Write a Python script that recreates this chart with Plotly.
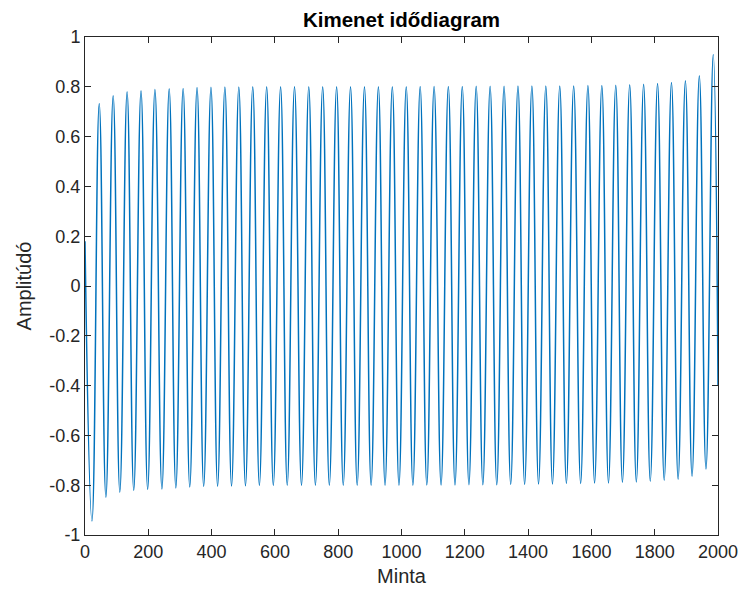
import plotly.graph_objects as go

# Sample index where the signal starts / ends and the values there
start_sample = 0
start_value = 0.18
end_sample = 2000
end_value = -0.40

# Trough positions (sample index) and values
trough_x = [22, 66, 110, 154, 198, 243, 287, 331, 375, 419, 463, 507, 551, 595, 639,
            684, 728, 772, 816, 860, 904, 948, 992, 1036, 1080, 1125, 1169, 1213, 1257,
            1301, 1345, 1389, 1433, 1477, 1521, 1566, 1610, 1654, 1698, 1742, 1786, 1830,
            1874, 1918, 1962]
trough_y = [-0.944, -0.848, -0.828, -0.821, -0.817, -0.815, -0.811, -0.807,
            -0.805, -0.804, -0.803, -0.802, -0.801, -0.801, -0.800, -0.800, -0.800,
            -0.800, -0.800, -0.800, -0.800, -0.800, -0.800, -0.800, -0.799, -0.799,
            -0.799, -0.798, -0.798, -0.798, -0.797,
            -0.797, -0.795, -0.795, -0.793, -0.793, -0.791, -0.791, -0.788, -0.787,
            -0.784, -0.780, -0.776, -0.764, -0.735]

# Peak positions (sample index) and values
peak_x = [45, 89, 133, 177, 221, 266, 310, 354, 398, 442, 486, 530, 574, 618, 662,
          707, 751, 795, 839, 883, 927, 971, 1015, 1059, 1103, 1148, 1192, 1236, 1280,
          1324, 1368, 1412, 1456, 1500, 1544, 1589, 1633, 1677, 1721, 1765, 1809, 1853,
          1897, 1941, 1985]
peak_y = [0.733, 0.764, 0.780, 0.784, 0.789, 0.792, 0.793, 0.797,
          0.798, 0.799, 0.799, 0.800, 0.800, 0.800, 0.800, 0.800, 0.800, 0.800,
          0.800, 0.800, 0.800, 0.800, 0.800, 0.801, 0.801, 0.801, 0.801, 0.802,
          0.802, 0.802,
          0.803, 0.803, 0.803, 0.803, 0.803, 0.805, 0.805, 0.806, 0.808, 0.810,
          0.813, 0.817, 0.824, 0.844, 0.930]

x_ticks = [0, 200, 400, 600, 800, 1000, 1200, 1400, 1600, 1800, 2000]
y_ticks = [-1, -0.8, -0.6, -0.4, -0.2, 0, 0.2, 0.4, 0.6, 0.8, 1]
y_tick_text = ["-1", "-0.8", "-0.6", "-0.4", "-0.2", "0", "0.2", "0.4", "0.6", "0.8", "1"]

xs = [start_sample]
ys = [start_value]
for tx, ty, px, py in zip(trough_x, trough_y, peak_x, peak_y):
    xs += [tx, px]
    ys += [ty, py]
xs.append(end_sample)
ys.append(end_value)

FONT = "Liberation Sans, Arial, Helvetica, sans-serif"
AX = "#262626"

fig = go.Figure()
fig.add_trace(go.Scatter(
    x=xs, y=ys, mode="lines",
    line=dict(color="#0072BD", width=1.5, shape="spline", smoothing=1.3),
    showlegend=False, hoverinfo="skip",
))

axis_common = dict(
    showline=True, linecolor=AX, linewidth=1, mirror="ticks",
    ticks="inside", ticklen=6, tickwidth=1, tickcolor=AX,
    showgrid=False, zeroline=False, automargin=False,
    tickfont=dict(family=FONT, size=18, color=AX),
)

fig.update_layout(
    width=742, height=598,
    margin=dict(l=85, r=24, t=37, b=63),
    paper_bgcolor="white", plot_bgcolor="white",
    font=dict(family=FONT, color=AX),
    title=dict(text="<b>Kimenet idődiagram</b>", x=0.5, xref="paper", xanchor="center",
               y=1 - 20 / 598, yref="container", yanchor="middle", automargin=False,
               font=dict(family=FONT, size=20.5, color="black")),
    xaxis=dict(range=[0, 2000], tickvals=x_ticks, **axis_common,
               title=dict(text="Minta", font=dict(family=FONT, size=20, color=AX), standoff=8)),
    yaxis=dict(range=[-1, 1], tickvals=y_ticks, ticktext=y_tick_text, **axis_common,
               title=dict(text="Amplitúdó", font=dict(family=FONT, size=20, color=AX), standoff=12)),
)

fig.write_html("out.html")
